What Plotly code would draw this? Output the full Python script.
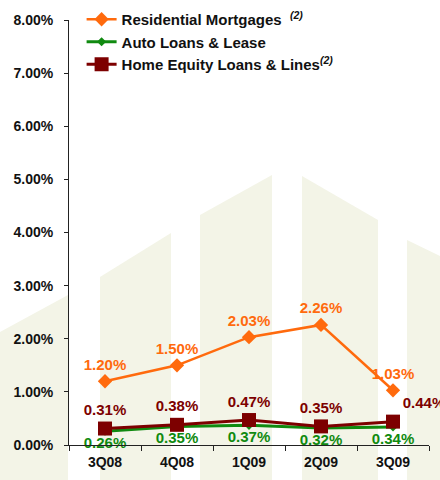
import plotly.graph_objects as go

# Quarterly delinquency rates (%)
quarters = ["3Q08", "4Q08", "1Q09", "2Q09", "3Q09"]
residential = [1.20, 1.50, 2.03, 2.26, 1.03]
auto = [0.26, 0.35, 0.37, 0.32, 0.34]
home_equity = [0.31, 0.38, 0.47, 0.35, 0.44]

series_names = [
    "Residential Mortgages\u00a0\u00a0<sup><i>(2)</i></sup>",
    "Auto Loans & Lease",
    "Home Equity Loans & Lines<sup><i>(2)</i></sup>",
]

ORANGE = "#FF6A0D"
GREEN = "#108A10"
MAROON = "#7D0000"
FONT = "Arial, Liberation Sans, sans-serif"

W, H = 440, 480
L, R, T, B = 69, 11, 20, 35


def px_to_paper(x, y):
    return (x - L) / (W - L - R), (H - B - y) / (H - T - B)


def band(points):
    parts = []
    for i, (x, y) in enumerate(points):
        px, py = px_to_paper(x, y)
        parts.append(("M" if i == 0 else "L") + f"{px:.4f},{py:.4f}")
    return " ".join(parts) + " Z"


# faint backdrop stripes with slanted tops
backdrop = [
    [(0, 332), (68, 295), (68, 480), (0, 480)],
    [(100, 277), (171, 233), (171, 480), (100, 480)],
    [(200, 215), (272, 175), (272, 480), (200, 480)],
    [(302, 176), (378, 220), (378, 480), (302, 480)],
    [(407, 240), (440, 256), (440, 480), (407, 480)],
]
shapes = [
    dict(type="path", xref="paper", yref="paper", path=band(p),
         fillcolor="#F3F4E7", line=dict(width=0), layer="below")
    for p in backdrop
]

fmt = lambda v: f"{v:.2f}%"
label_font = lambda c: dict(family=FONT, size=15, color=c, weight="bold")

fig = go.Figure()
fig.add_trace(go.Scatter(
    x=quarters, y=residential, name=series_names[0],
    mode="lines+markers+text", cliponaxis=False,
    line=dict(color=ORANGE, width=2.5),
    marker=dict(symbol="diamond", size=11, color=ORANGE),
    text=[fmt(v) for v in residential],
    textposition="top center",
    textfont=label_font(ORANGE),
))
fig.add_trace(go.Scatter(
    x=quarters, y=auto, name=series_names[1],
    mode="lines+markers+text", cliponaxis=False,
    line=dict(color=GREEN, width=3),
    marker=dict(symbol="diamond", size=7, color=GREEN),
    text=[fmt(v) for v in auto],
    textposition="bottom center",
    textfont=label_font(GREEN),
))
fig.add_trace(go.Scatter(
    x=quarters, y=home_equity, name=series_names[2],
    mode="lines+markers+text", cliponaxis=False,
    line=dict(color=MAROON, width=3),
    marker=dict(symbol="square", size=14, color=MAROON),
    text=[fmt(v) for v in home_equity],
    textposition=["top center"] * 4 + ["top right"],
    textfont=label_font(MAROON),
))

fig.update_layout(
    width=W, height=H,
    margin=dict(l=L, r=R, t=T, b=B, autoexpand=False),
    paper_bgcolor="white",
    plot_bgcolor="rgba(0,0,0,0)",
    shapes=shapes,
    font=dict(family=FONT, size=15, color="#111111"),
    showlegend=True,
    legend=dict(
        x=0.035, y=1.04, xanchor="left", yanchor="top",
        bgcolor="rgba(0,0,0,0)",
        font=dict(family=FONT, size=15, color="#111111", weight="bold"),
        tracegroupgap=0, itemwidth=30,
    ),
    xaxis=dict(
        type="category", range=[-0.5, 4.5],
        showline=True, linecolor="#222222", linewidth=1,
        ticks="outside", tickson="boundaries", ticklen=5, tickcolor="#222222",
        showgrid=False, zeroline=False, ticklabelstandoff=4,
        tickfont=dict(family=FONT, size=14, weight="bold"),
    ),
    yaxis=dict(
        range=[0, 8], dtick=1, tickformat=".2f", ticksuffix="%",
        showline=True, linecolor="#222222", linewidth=1,
        ticks="outside", ticklen=4, tickcolor="#222222",
        showgrid=False, zeroline=False, ticklabelstandoff=8,
        tickfont=dict(family=FONT, size=14, weight="bold"),
    ),
)

fig.write_html("out.html")
